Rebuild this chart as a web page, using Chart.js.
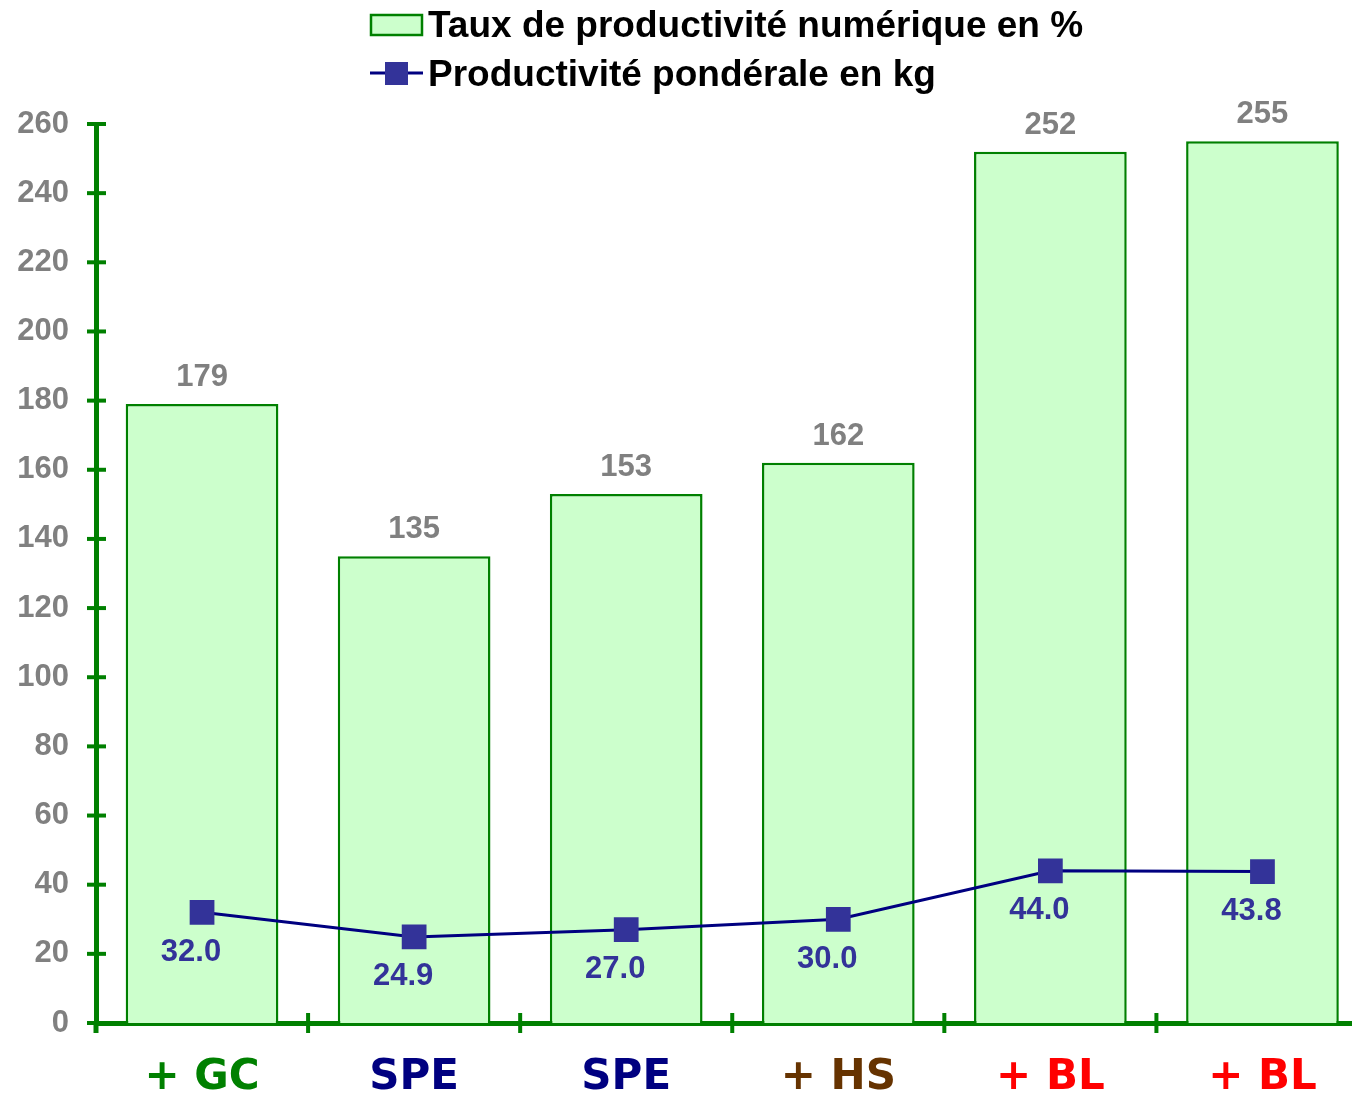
<!DOCTYPE html>
<html><head><meta charset="utf-8">
<script src="https://cdn.jsdelivr.net/npm/chart.js@4.4.0/dist/chart.umd.min.js"></script>
<style>html,body{margin:0;padding:0;background:#fff;overflow:hidden;}canvas{display:block;}</style>
</head><body>
<canvas id="c" width="1386" height="1093" style="width:1386px;height:1093px"></canvas>
<script>
const categories = ['+ GC', 'SPE', 'SPE', '+ HS', '+ BL', '+ BL'];
const categoryColors = ['#008000', '#000080', '#000080', '#663300', '#FF0000', '#FF0000'];
const tauxProductivite = [179, 135, 153, 162, 252, 255];
const productivitePonderale = [32.0, 24.9, 27.0, 30.0, 44.0, 43.8];
const seriesLabels = ['Taux de productivité numérique en %', 'Productivité pondérale en kg'];
const yMin = 0, yMax = 260, yStep = 20;

const GREEN = '#008000';

const crossTicks = {
  id: 'crossTicks',
  afterDraw(chart) {
    const ctx = chart.ctx, x = chart.scales.x, y = chart.scales.y, a = chart.chartArea;
    ctx.save();
    ctx.strokeStyle = GREEN; ctx.lineWidth = 4;
    y.ticks.forEach((t, i) => {
      const py = y.getPixelForTick(i);
      ctx.beginPath(); ctx.moveTo(a.left - 9, py); ctx.lineTo(a.left + 10, py); ctx.stroke();
    });
    for (let i = 0; i < categories.length - 1; i++) {
      const px = (x.getPixelForTick(i) + x.getPixelForTick(i + 1)) / 2;
      ctx.beginPath(); ctx.moveTo(px, a.bottom - 10); ctx.lineTo(px, a.bottom + 10); ctx.stroke();
    }
    ctx.lineWidth = 5;
    ctx.beginPath(); ctx.moveTo(a.left, a.bottom); ctx.lineTo(a.left, a.bottom + 10); ctx.stroke();
    ctx.restore();
  }
};

const valueLabels = {
  id: 'valueLabels',
  afterDatasetsDraw(chart) {
    const ctx = chart.ctx;
    ctx.save();
    ctx.font = 'bold 31px "Liberation Sans", Arial, sans-serif';
    ctx.textAlign = 'center';
    const bars = chart.getDatasetMeta(0).data;
    ctx.fillStyle = '#808080'; ctx.textBaseline = 'alphabetic';
    bars.forEach((b, i) => ctx.fillText(String(tauxProductivite[i]), b.x, b.y - 18));
    const pts = chart.getDatasetMeta(1).data;
    ctx.fillStyle = '#333399'; ctx.textBaseline = 'middle';
    pts.forEach((p, i) => ctx.fillText(productivitePonderale[i].toFixed(1), p.x - 11, p.y + 40));
    ctx.restore();
  }
};

const customLegend = {
  id: 'customLegend',
  afterDraw(chart) {
    const ctx = chart.ctx;
    const ds = chart.data.datasets;
    ctx.save();
    ctx.fillStyle = ds[0].backgroundColor; ctx.strokeStyle = ds[0].borderColor; ctx.lineWidth = 2.5;
    ctx.fillRect(371, 15, 51, 20); ctx.strokeRect(371, 15, 51, 20);
    ctx.strokeStyle = ds[1].borderColor; ctx.lineWidth = 3;
    ctx.beginPath(); ctx.moveTo(370, 73); ctx.lineTo(423, 73); ctx.stroke();
    ctx.fillStyle = ds[1].pointBackgroundColor; ctx.fillRect(385, 62, 23, 23);
    ctx.fillStyle = '#000'; ctx.font = 'bold 37px "Liberation Sans", Arial, sans-serif';
    ctx.textAlign = 'left'; ctx.textBaseline = 'alphabetic';
    ctx.fillText(ds[0].label, 428, 37);
    ctx.fillText(ds[1].label, 428, 86);
    ctx.restore();
  }
};

new Chart(document.getElementById('c'), {
  data: {
    labels: categories,
    datasets: [
      {
        type: 'bar', label: seriesLabels[0], data: tauxProductivite,
        backgroundColor: '#CCFFCC', borderColor: GREEN, borderWidth: 2.5,
        barPercentage: 0.72, categoryPercentage: 1, order: 2
      },
      {
        type: 'line', label: seriesLabels[1], data: productivitePonderale,
        borderColor: '#000080', borderWidth: 3, tension: 0,
        pointStyle: 'rect', pointRadius: 17.5, pointBackgroundColor: '#333399',
        pointBorderColor: '#333399', pointBorderWidth: 0, order: 1
      }
    ]
  },
  options: {
    responsive: false, animation: false,
    layout: { padding: { top: 124, right: 11, left: 0, bottom: 0 } },
    plugins: { legend: { display: false }, tooltip: { enabled: false } },
    scales: {
      x: {
        offset: true, z: 1,
        grid: { display: false, drawTicks: false },
        border: { display: true, color: GREEN, width: 5 },
        ticks: {
          padding: 30,
          color: (c) => categoryColors[c.index],
          font: { family: '"DejaVu Sans", Verdana, sans-serif', weight: 'bold', size: 42 }
        },
        afterFit(s) { s.height = 70; }
      },
      y: {
        min: yMin, max: yMax, z: 1,
        grid: { display: false, drawTicks: false },
        border: { display: true, color: GREEN, width: 5 },
        ticks: {
          stepSize: yStep, padding: 27, color: '#808080',
          font: { family: '"Liberation Sans", Arial, sans-serif', weight: 'bold', size: 31 }
        },
        afterFit(s) { s.width = 96; }
      }
    }
  },
  plugins: [crossTicks, valueLabels, customLegend]
});
</script>
</body></html>
